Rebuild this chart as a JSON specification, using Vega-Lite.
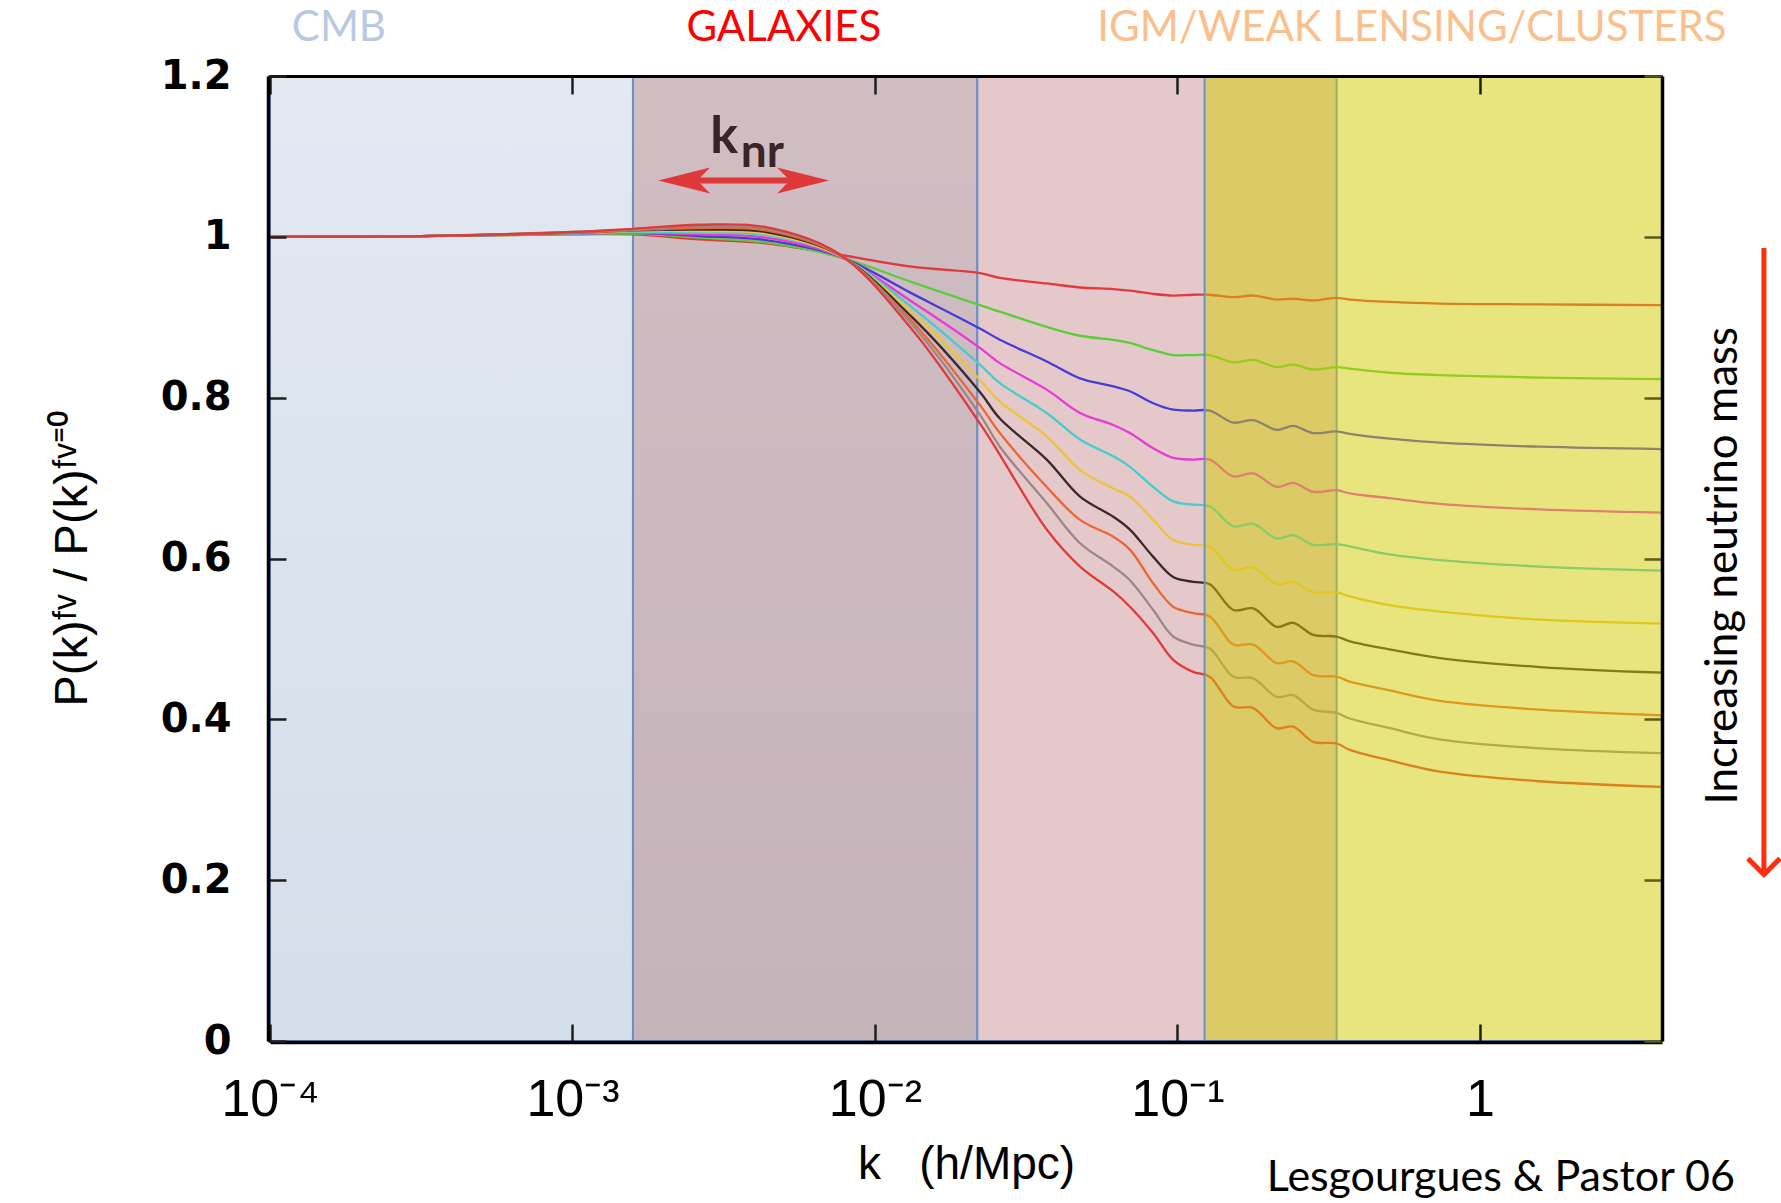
{
"$schema":"https://vega.github.io/schema/vega-lite/v6.json",
"width":1392,"height":965,
"autosize":{"type":"none"},
"padding":{"left":270,"top":76,"right":119,"bottom":162},
"background":"#ffffff",
"config":{"view":{"stroke":null}},
"datasets":{
"bands":[
{"band":"CMB","k0":0.0001,"k1":0.001585},
{"band":"GALAXIES","k0":0.001585,"k1":0.0218},
{"band":"NONLINEAR","k0":0.0218,"k1":0.336},
{"band":"IGM","k0":0.123,"k1":4}
],
"curves":[
{"k":0.0001,"m1":1,"m2":1,"m3":1,"m4":1,"m5":1,"m6":1,"m7":1,"m8":1,"m9":1,"m10":1},
{"k":0.000316,"m1":1.001,"m2":1.001,"m3":1.001,"m4":1.001,"m5":1.001,"m6":1.001,"m7":1.001,"m8":1.001,"m9":1.001,"m10":1.001},
{"k":0.001,"m1":1.003,"m2":1.003,"m3":1.004,"m4":1.004,"m5":1.004,"m6":1.005,"m7":1.005,"m8":1.005,"m9":1.006,"m10":1.006},
{"k":0.001585,"m1":1.003,"m2":1.004,"m3":1.005,"m4":1.005,"m5":1.006,"m6":1.007,"m7":1.008,"m8":1.008,"m9":1.009,"m10":1.010},
{"k":0.00263,"m1":0.997,"m2":0.999,"m3":1.001,"m4":1.003,"m5":1.005,"m6":1.007,"m7":1.009,"m8":1.011,"m9":1.013,"m10":1.015},
{"k":0.004365,"m1":0.992,"m2":0.993,"m3":0.996,"m4":0.999,"m5":1.002,"m6":1.004,"m7":1.006,"m8":1.008,"m9":1.010,"m10":1.012},
{"k":0.00759,"m1":0.978,"m2":0.975,"m3":0.976,"m4":0.976,"m5":0.977,"m6":0.977,"m7":0.978,"m8":0.978,"m9":0.979,"m10":0.979},
{"k":0.01318,"m1":0.963,"m2":0.944,"m3":0.930,"m4":0.920,"m5":0.913,"m6":0.907,"m7":0.901,"m8":0.896,"m9":0.892,"m10":0.886},
{"k":0.02223,"m1":0.955,"m2":0.915,"m3":0.886,"m4":0.862,"m5":0.841,"m6":0.822,"m7":0.807,"m8":0.791,"m9":0.779,"m10":0.768},
{"k":0.02588,"m1":0.949,"m2":0.907,"m3":0.872,"m4":0.843,"m5":0.818,"m6":0.795,"m7":0.774,"m8":0.756,"m9":0.739,"m10":0.729},
{"k":0.03698,"m1":0.942,"m2":0.888,"m3":0.845,"m4":0.810,"m5":0.781,"m6":0.752,"m7":0.723,"m8":0.689,"m9":0.669,"m10":0.636},
{"k":0.04764,"m1":0.937,"m2":0.877,"m3":0.824,"m4":0.781,"m5":0.748,"m6":0.710,"m7":0.677,"m8":0.648,"m9":0.619,"m10":0.590},
{"k":0.06138,"m1":0.935,"m2":0.872,"m3":0.814,"m4":0.766,"m5":0.727,"m6":0.687,"m7":0.652,"m8":0.627,"m9":0.590,"m10":0.559},
{"k":0.06966,"m1":0.933,"m2":0.868,"m3":0.808,"m4":0.756,"m5":0.714,"m6":0.677,"m7":0.636,"m8":0.611,"m9":0.573,"m10":0.540},
{"k":0.08318,"m1":0.929,"m2":0.859,"m3":0.793,"m4":0.737,"m5":0.689,"m6":0.648,"m7":0.602,"m8":0.569,"m9":0.536,"m10":0.507},
{"k":0.09683,"m1":0.927,"m2":0.853,"m3":0.785,"m4":0.725,"m5":0.671,"m6":0.623,"m7":0.577,"m8":0.540,"m9":0.503,"m10":0.474},
{"k":0.1127,"m1":0.928,"m2":0.853,"m3":0.784,"m4":0.723,"m5":0.667,"m6":0.617,"m7":0.571,"m8":0.532,"m9":0.493,"m10":0.459},
{"k":0.1279,"m1":0.928,"m2":0.853,"m3":0.784,"m4":0.723,"m5":0.665,"m6":0.615,"m7":0.568,"m8":0.528,"m9":0.488,"m10":0.453},
{"k":0.1531,"m1":0.925,"m2":0.844,"m3":0.769,"m4":0.702,"m5":0.640,"m6":0.586,"m7":0.536,"m8":0.493,"m9":0.453,"m10":0.416},
{"k":0.1782,"m1":0.927,"m2":0.847,"m3":0.772,"m4":0.706,"m5":0.643,"m6":0.589,"m7":0.538,"m8":0.493,"m9":0.451,"m10":0.414},
{"k":0.2128,"m1":0.922,"m2":0.838,"m3":0.760,"m4":0.689,"m5":0.625,"m6":0.568,"m7":0.515,"m8":0.470,"m9":0.428,"m10":0.389},
{"k":0.2415,"m1":0.923,"m2":0.841,"m3":0.765,"m4":0.694,"m5":0.629,"m6":0.571,"m7":0.520,"m8":0.472,"m9":0.430,"m10":0.391},
{"k":0.2812,"m1":0.921,"m2":0.835,"m3":0.756,"m4":0.683,"m5":0.617,"m6":0.558,"m7":0.505,"m8":0.455,"m9":0.412,"m10":0.372},
{"k":0.3357,"m1":0.924,"m2":0.838,"m3":0.758,"m4":0.685,"m5":0.618,"m6":0.558,"m7":0.503,"m8":0.453,"m9":0.408,"m10":0.370},
{"k":0.3715,"m1":0.922,"m2":0.836,"m3":0.755,"m4":0.681,"m5":0.615,"m6":0.553,"m7":0.497,"m8":0.447,"m9":0.401,"m10":0.362},
{"k":0.5035,"m1":0.919,"m2":0.831,"m3":0.749,"m4":0.675,"m5":0.605,"m6":0.542,"m7":0.487,"m8":0.436,"m9":0.389,"m10":0.349},
{"k":0.7379,"m1":0.917,"m2":0.828,"m3":0.744,"m4":0.668,"m5":0.598,"m6":0.534,"m7":0.476,"m8":0.423,"m9":0.375,"m10":0.335},
{"k":1.578,"m1":0.916,"m2":0.825,"m3":0.739,"m4":0.661,"m5":0.590,"m6":0.524,"m7":0.465,"m8":0.412,"m9":0.364,"m10":0.323},
{"k":4.0,"m1":0.915,"m2":0.823,"m3":0.736,"m4":0.657,"m5":0.585,"m6":0.519,"m7":0.458,"m8":0.405,"m9":0.358,"m10":0.316}
]
},
"layer":[
{"data":{"name":"bands"},"transform":[{"filter":"datum.band === 'CMB'"}],
 "mark":{"type":"rect","fill":{"gradient":"linear","x1":0,"y1":0,"x2":0,"y2":1,"stops":[{"offset":0,"color":"#e3e8f1"},{"offset":1,"color":"#d3dfeb"}]},"stroke":"#6b8fc8","strokeWidth":2},
 "encoding":{"x":{"field":"k0","type":"quantitative","scale":{"type":"log","domain":[0.0001,4],"nice":false},"axis":null},"x2":{"field":"k1"},
  "y":{"datum":0,"type":"quantitative","scale":{"domain":[0,1.2],"nice":false,"zero":false},"axis":null},"y2":{"datum":1.2}}},
{"data":{"name":"bands"},"transform":[{"filter":"datum.band === 'GALAXIES'"}],
 "mark":{"type":"rect","fill":{"gradient":"linear","x1":0,"y1":0,"x2":0,"y2":1,"stops":[{"offset":0,"color":"#d0bec3"},{"offset":1,"color":"#c5b3ba"}]},"stroke":"#6b8fc8","strokeWidth":2},
 "encoding":{"x":{"field":"k0","type":"quantitative","scale":{"type":"log","domain":[0.0001,4],"nice":false},"axis":null},"x2":{"field":"k1"},
  "y":{"datum":0,"type":"quantitative","scale":{"domain":[0,1.2],"nice":false,"zero":false},"axis":null},"y2":{"datum":1.2}}},
{"data":{"name":"bands"},"transform":[{"filter":"datum.band === 'NONLINEAR'"}],
 "mark":{"type":"rect","fill":"#e5c9ca","stroke":"#6b8fc8","strokeWidth":2},
 "encoding":{"x":{"field":"k0","type":"quantitative","scale":{"type":"log","domain":[0.0001,4],"nice":false},"axis":null},"x2":{"field":"k1"},
  "y":{"datum":0,"type":"quantitative","scale":{"domain":[0,1.2],"nice":false,"zero":false},"axis":null},"y2":{"datum":1.2}}},
{"data":{"name":"curves"},"transform":[{"fold":["m1","m2","m3","m4","m5","m6","m7","m8","m9","m10"],"as":["mass","ratio"]}],
 "mark":{"type":"line","interpolate":"catmull-rom","strokeWidth":2.3},
 "encoding":{
  "x":{"field":"k","type":"quantitative","scale":{"type":"log","domain":[0.0001,4],"nice":false},
   "axis":{"orient":"bottom","values":[0.0001,0.001,0.01,0.1,1],"labelExpr":"datum.value > 0.5 ? '1' : datum.value > 0.05 ? '10⁻¹' : datum.value > 0.005 ? '10⁻²' : datum.value > 0.0005 ? '10⁻³' : '10⁻⁴'","labelFlush":false,"labelOverlap":false,"grid":false,"domainColor":"#000000","domainWidth":3.5,"offset":1,"tickColor":"#1e1e1e","tickWidth":2.5,"tickSize":-18,"labelFont":"Liberation Sans Narrow, Liberation Sans, sans-serif","labelFontSize":52,"labelColor":"#000000","labelPadding":50,"title":"k\u00a0\u00a0\u00a0(h/Mpc)","titleFont":"Liberation Sans, sans-serif","titleFontSize":46,"titleFontWeight":"normal","titleColor":"#000000","titlePadding":17,"zindex":1}},
  "y":{"field":"ratio","type":"quantitative","scale":{"domain":[0,1.2],"nice":false,"zero":false},
   "axis":{"orient":"left","values":[0,0.2,0.4,0.6,0.8,1,1.2],"format":".1~f","labelFlush":false,"labelOverlap":false,"grid":false,"domainColor":"#000000","domainWidth":3.5,"offset":2,"tickColor":"#1e1e1e","tickWidth":2.5,"tickSize":-18,"labelFont":"DejaVu Sans","labelFontWeight":"bold","labelFontSize":40,"labelColor":"#000000","labelPadding":55,"title":"P(k)ᶠᵛ / P(k)ᶠᵛ⁼⁰","titleFont":"Liberation Sans, sans-serif","titleFontSize":47,"titleFontWeight":"normal","titleColor":"#000000","titlePadding":64,"zindex":1}},
  "color":{"field":"mass","type":"nominal","scale":{"domain":["m1","m2","m3","m4","m5","m6","m7","m8","m9","m10"],"range":["#e0393e","#5ccc3c","#4a3ad8","#e83ad8","#45cccc","#ecc43a","#3a2828","#e8663a","#9a8888","#e03a3a"]},"legend":null}}},
{"data":{"name":"bands"},"transform":[{"filter":"datum.band === 'IGM'"}],
 "mark":{"type":"rect","fill":"#d1cb00","fillOpacity":0.5,"stroke":"#6b8fc8","strokeWidth":2},
 "encoding":{"x":{"field":"k0","type":"quantitative","scale":{"type":"log","domain":[0.0001,4],"nice":false},
   "axis":{"orient":"top","values":[0.0001,0.001,0.01,0.1,1],"labels":false,"title":null,"grid":false,"domainColor":"#000000","domainWidth":3,"tickColor":"#1e1e1e","tickWidth":2.5,"tickSize":-18,"zindex":1}},
  "x2":{"field":"k1"},
  "y":{"datum":0,"type":"quantitative","scale":{"domain":[0,1.2],"nice":false,"zero":false},
   "axis":{"orient":"right","values":[0,0.2,0.4,0.6,0.8,1,1.2],"labels":false,"title":null,"grid":false,"domainColor":"#000000","domainWidth":3.5,"tickColor":"#5a5a20","tickWidth":2.5,"tickSize":-18,"zindex":1}},
  "y2":{"datum":1.2}}},
{"data":{"values":[{"k0":0.00223,"k1":0.00605,"v":1.07}]},
 "mark":{"type":"rule","stroke":"#de3838","strokeWidth":6},
 "encoding":{"x":{"field":"k0","type":"quantitative","scale":{"type":"log","domain":[0.0001,4],"nice":false},"axis":null},"x2":{"field":"k1"},
  "y":{"field":"v","type":"quantitative","scale":{"domain":[0,1.2],"nice":false,"zero":false},"axis":null}}},
{"data":{"values":[{"k":0.00192,"v":1.07,"dir":"left"},{"k":0.00705,"v":1.07,"dir":"right"}]},
 "mark":{"type":"point","filled":true,"fill":"#de3838","fillOpacity":1,"strokeWidth":0,"size":2704},
 "encoding":{"x":{"field":"k","type":"quantitative","scale":{"type":"log","domain":[0.0001,4],"nice":false},"axis":null},
  "y":{"field":"v","type":"quantitative","scale":{"domain":[0,1.2],"nice":false,"zero":false},"axis":null},
  "shape":{"field":"dir","type":"nominal","scale":{"domain":["left","right"],"range":["M0,0L2,-0.5L1.5,0L2,0.5Z","M0,0L-2,-0.5L-1.5,0L-2,0.5Z"]},"legend":null}}},
{"data":{"values":[{"text":"k","k":0.00317,"v":1.104}]},
 "mark":{"type":"text","font":"Lato","fontSize":52,"fontWeight":"bold","color":"#3b2426","align":"center","baseline":"alphabetic"},
 "encoding":{"x":{"field":"k","type":"quantitative","scale":{"type":"log","domain":[0.0001,4],"nice":false},"axis":null},
  "y":{"field":"v","type":"quantitative","scale":{"domain":[0,1.2],"nice":false,"zero":false},"axis":null},"text":{"field":"text"}}},
{"data":{"values":[{"text":"nr","k":0.0036,"v":1.087}]},
 "mark":{"type":"text","font":"Lato","fontSize":46,"fontWeight":"bold","color":"#3b2426","align":"left","baseline":"alphabetic"},
 "encoding":{"x":{"field":"k","type":"quantitative","scale":{"type":"log","domain":[0.0001,4],"nice":false},"axis":null},
  "y":{"field":"v","type":"quantitative","scale":{"domain":[0,1.2],"nice":false,"zero":false},"axis":null},"text":{"field":"text"}}},
{"data":{"values":[{"text":"CMB","k":0.000169,"v":1.26}]},
 "mark":{"type":"text","font":"Lato","fontSize":42,"color":"#b8c9e1","align":"center","baseline":"middle"},
 "encoding":{"x":{"field":"k","type":"quantitative","scale":{"type":"log","domain":[0.0001,4],"nice":false},"axis":null},
  "y":{"field":"v","type":"quantitative","scale":{"domain":[0,1.2],"nice":false,"zero":false},"axis":null},"text":{"field":"text"}}},
{"data":{"values":[{"text":"GALAXIES","k":0.005,"v":1.26}]},
 "mark":{"type":"text","font":"Lato","fontSize":42,"color":"#ff0000","align":"center","baseline":"middle"},
 "encoding":{"x":{"field":"k","type":"quantitative","scale":{"type":"log","domain":[0.0001,4],"nice":false},"axis":null},
  "y":{"field":"v","type":"quantitative","scale":{"domain":[0,1.2],"nice":false,"zero":false},"axis":null},"text":{"field":"text"}}},
{"data":{"values":[{"text":"IGM/WEAK LENSING/CLUSTERS","k":0.596,"v":1.26}]},
 "mark":{"type":"text","font":"Lato","fontSize":42,"color":"#fbbf8d","align":"center","baseline":"middle"},
 "encoding":{"x":{"field":"k","type":"quantitative","scale":{"type":"log","domain":[0.0001,4],"nice":false},"axis":null},
  "y":{"field":"v","type":"quantitative","scale":{"domain":[0,1.2],"nice":false,"zero":false},"axis":null},"text":{"field":"text"}}},
{"data":{"values":[{"text":"Increasing neutrino mass","k":6.41,"v":0.591}]},
 "mark":{"type":"text","font":"Lato","fontSize":44,"color":"#000000","align":"center","baseline":"middle","angle":270},
 "encoding":{"x":{"field":"k","type":"quantitative","scale":{"type":"log","domain":[0.0001,4],"nice":false},"axis":null},
  "y":{"field":"v","type":"quantitative","scale":{"domain":[0,1.2],"nice":false,"zero":false},"axis":null},"text":{"field":"text"}}},
{"data":{"values":[{"k":8.69,"v0":0.986,"v1":0.207}]},
 "mark":{"type":"rule","stroke":"#ff2d0c","strokeWidth":5},
 "encoding":{"x":{"field":"k","type":"quantitative","scale":{"type":"log","domain":[0.0001,4],"nice":false},"axis":null},
  "y":{"field":"v0","type":"quantitative","scale":{"domain":[0,1.2],"nice":false,"zero":false},"axis":null},"y2":{"field":"v1"}}},
{"data":{"values":[{"k":8.69,"v":0.207}]},
 "mark":{"type":"point","shape":"M-1,-1L0,0L1,-1","filled":false,"stroke":"#ff2d0c","strokeWidth":5,"opacity":1,"size":1024},
 "encoding":{"x":{"field":"k","type":"quantitative","scale":{"type":"log","domain":[0.0001,4],"nice":false},"axis":null},
  "y":{"field":"v","type":"quantitative","scale":{"domain":[0,1.2],"nice":false,"zero":false},"axis":null}}},
{"data":{"values":[{"text":"Lesgourgues & Pastor 06","k":1.173,"v":-0.17}]},
 "mark":{"type":"text","font":"Lato","fontSize":43,"color":"#000000","align":"center","baseline":"middle"},
 "encoding":{"x":{"field":"k","type":"quantitative","scale":{"type":"log","domain":[0.0001,4],"nice":false},"axis":null},
  "y":{"field":"v","type":"quantitative","scale":{"domain":[0,1.2],"nice":false,"zero":false},"axis":null},"text":{"field":"text"}}}
],
"resolve":{"axis":{"x":"independent","y":"independent"}}
}
